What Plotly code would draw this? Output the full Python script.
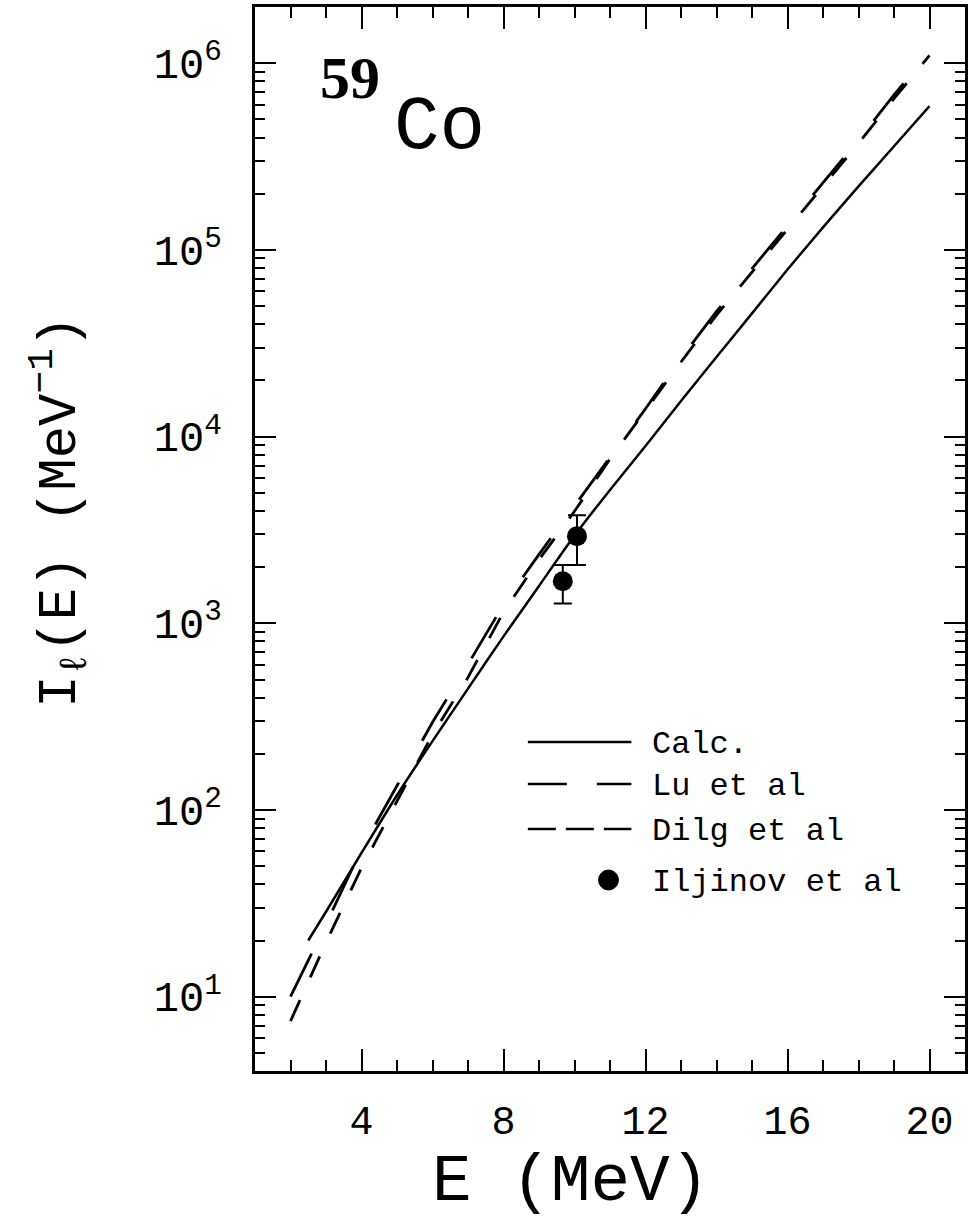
import plotly.graph_objects as go

# ---------------- data ----------------
calc_E = [2.5, 3, 4, 5, 6, 7, 8, 9, 10, 11, 12, 13, 14, 15, 16, 17, 18, 19, 20]
calc_I = [20.0, 28.5, 58.9, 120, 234, 447, 851, 1585, 2950, 5180, 8910,
          15500, 26700, 45700, 78500, 132000, 219000, 359000, 589000]

lu_E = [2, 3, 4, 5, 6, 7, 8, 9, 10, 11, 12, 13, 14, 15, 16, 17, 18, 19, 20]
lu_I = [10.0, 24.5, 61.7, 135, 295, 603, 1260, 2340, 4270, 7760, 14100,
        26300, 46800, 79400, 135000, 229000, 389000, 676000, 1150000]

dilg_E = [2, 3, 4, 5, 6, 7, 8, 9, 10, 11, 12, 13, 14, 15, 16, 17, 18, 19, 20]
dilg_I = [7.4, 19.5, 49, 112, 254, 513, 1150, 2190, 3980, 7590, 13800,
          25100, 44700, 75900, 129000, 219000, 372000, 646000, 1100000]

ilj_E = [9.67, 10.07]
ilj_I = [1680, 2930]
ilj_err_plus = [370, 860]
ilj_err_minus = [405, 880]

x_ticks = [4, 8, 12, 16, 20]
x_ticktext = ["4", "8", "12", "16", "20"]
y_ticks = [10, 100, 1000, 10000, 100000, 1000000]
y_ticktext = ["10<sup>1</sup>", "10<sup>2</sup>", "10<sup>3</sup>",
              "10<sup>4</sup>", "10<sup>5</sup>", "10<sup>6</sup>"]
y_minor = [m * 10 ** k for k in range(0, 7) for m in range(2, 10)
           if 4 <= m * 10 ** k <= 2e6]

legend_labels = ["Calc.", "Lu et al", "Dilg et al", "Iljinov et al"]

FONT = "Liberation Mono"

fig = go.Figure()
fig.add_trace(go.Scatter(x=calc_E, y=calc_I, mode="lines", name="Calc.",
                         line=dict(color="black", width=2.5, shape="spline", smoothing=0.6)))
fig.add_trace(go.Scatter(x=lu_E, y=lu_I, mode="lines", name="Lu et al",
                         line=dict(color="black", width=2.8, dash="48px,48px")))
fig.add_trace(go.Scatter(x=dilg_E, y=dilg_I, mode="lines", name="Dilg et al",
                         line=dict(color="black", width=2.8, dash="23px,25px")))
fig.add_trace(go.Scatter(x=ilj_E, y=ilj_I, mode="markers", name="Iljinov et al",
                         marker=dict(color="black", size=20, symbol="circle"),
                         error_y=dict(type="data", array=ilj_err_plus,
                                      arrayminus=ilj_err_minus, color="black",
                                      thickness=2, width=9)))

# ---------------- axes ----------------
fig.update_xaxes(range=[1, 21], tickmode="array", tickvals=x_ticks, ticktext=x_ticktext,
                 ticks="inside", ticklen=22, tickwidth=2, tickcolor="black",
                 showline=True, linewidth=2.5, linecolor="black", mirror="allticks",
                 showgrid=False, zeroline=False,
                 minor=dict(ticks="inside", ticklen=11, tickwidth=2, tickcolor="black",
                            tick0=0, dtick=1, showgrid=False),
                 tickfont=dict(family=FONT, size=40, color="black"),
                 ticklabelstandoff=12)
fig.update_yaxes(type="log", range=[0.60206, 6.30103], tickmode="array",
                 tickvals=y_ticks, ticktext=y_ticktext,
                 ticks="inside", ticklen=21, tickwidth=2, tickcolor="black",
                 showline=True, linewidth=2.5, linecolor="black", mirror="allticks",
                 showgrid=False, zeroline=False,
                 minor=dict(ticks="inside", ticklen=10, tickwidth=2, tickcolor="black",
                            tickmode="array", tickvals=y_minor, showgrid=False),
                 tickfont=dict(family=FONT, size=42, color="black"),
                 ticklabelstandoff=22)

L, R, T, B, W, H = 255, 2, 7, 150, 970, 1221
PW, PH = W - L - R, H - T - B


def px(x):
    return (x - L) / PW


def py(y):
    return (H - B - y) / PH


annotations = [
    dict(text="E (MeV)", x=px(572), y=py(1182), xref="paper", yref="paper",
         showarrow=False, font=dict(family=FONT, size=66, color="black"),
         xanchor="center", yanchor="middle"),
    dict(text="I<sub>ℓ</sub>(E) (MeV<sup>−1</sup>)", x=px(58), y=py(512),
         xref="paper", yref="paper", textangle=-90, showarrow=False,
         font=dict(family=FONT, size=54, color="black"),
         xanchor="center", yanchor="middle"),
    dict(text="<b>59</b>", x=px(350), y=py(78), xref="paper", yref="paper",
         showarrow=False, font=dict(family="Liberation Serif", size=60, color="black"),
         xanchor="center", yanchor="middle"),
    dict(text="Co", x=px(440), y=py(128), xref="paper", yref="paper",
         showarrow=False, font=dict(family=FONT, size=76, color="black"),
         xanchor="center", yanchor="middle"),
]

# ---------------- hand-drawn legend (as in the reference) ----------------
rows_y = [742, 784, 829, 880]
dashes = ["solid", "39px,30px", "28px,10px", None]
shapes = []
for lab, yy, dsh in zip(legend_labels, rows_y, dashes):
    annotations.append(dict(text=lab, x=px(652), y=py(yy + 2), xref="paper", yref="paper",
                            showarrow=False, xanchor="left", yanchor="middle",
                            font=dict(family=FONT, size=32, color="black")))
    if dsh is not None:
        shapes.append(dict(type="line", xref="paper", yref="paper",
                           x0=px(529), x1=px(633), y0=py(yy), y1=py(yy),
                           line=dict(color="black", width=2.5, dash=dsh)))
    else:
        shapes.append(dict(type="circle", xref="paper", yref="paper",
                           x0=px(600), x1=px(620), y0=py(yy - 10), y1=py(yy + 10),
                           fillcolor="black", line=dict(color="black", width=1)))

fig.update_layout(width=W, height=H, margin=dict(l=L, r=R, t=T, b=B),
                  plot_bgcolor="white", paper_bgcolor="white", showlegend=False,
                  annotations=annotations, shapes=shapes,
                  font=dict(family=FONT, color="black"))

fig.write_html("out.html")
